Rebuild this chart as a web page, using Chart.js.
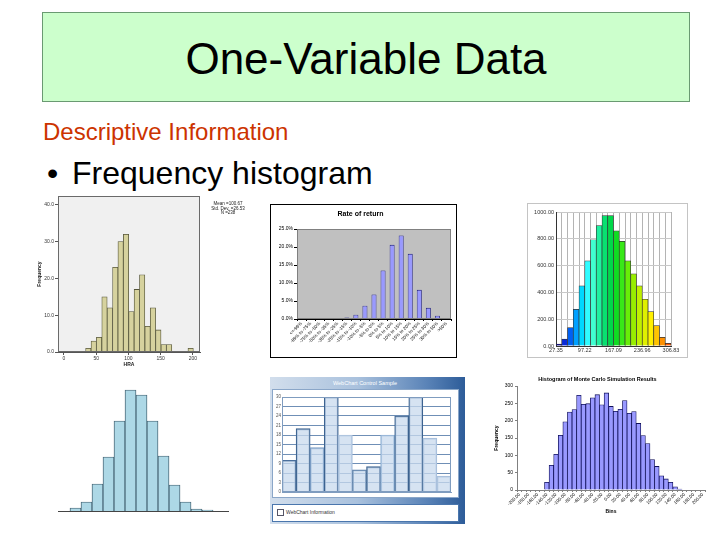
<!DOCTYPE html>
<html><head><meta charset="utf-8">
<script src="https://cdn.jsdelivr.net/npm/chart.js@4.4.1/dist/chart.umd.min.js"></script>
<style>
html,body{margin:0;padding:0;background:#fff;width:720px;height:540px;overflow:hidden;font-family:"Liberation Sans",Arial,sans-serif;}
.abs{position:absolute;white-space:nowrap;}
canvas{position:absolute;}
#titleBox{left:42px;top:12px;width:646px;height:88px;background:#ccffcc;border:1px solid #6a9a72;}
#titleText{left:42px;top:37px;width:648px;text-align:center;font-size:44px;line-height:44px;color:#000;}
#sub{left:43px;top:120px;font-size:24px;line-height:24px;color:#cc3300;}
#bul{left:47px;top:157px;font-size:32px;line-height:32px;}
#bulText{left:72px;top:157px;font-size:32px;line-height:32px;}
#spssLegend{left:206px;top:202px;width:44px;text-align:center;font-size:4.5px;line-height:4.6px;color:#222;}
#wcFrame{left:270px;top:377px;width:195px;height:147px;background:linear-gradient(90deg,#d2deec 0%,#a9c1dd 45%,#5b84b8 80%,#2d5c99 100%);}
#wcHead{left:270px;top:379px;width:190px;text-align:center;font-size:5.5px;line-height:8px;color:#fff;}
#wcPanel{left:272px;top:389px;width:185px;height:107px;background:#fff;border:1px solid #8aa6c8;}
#wcInfo{left:272px;top:504px;width:185px;height:16px;background:#fff;border:1px solid #4a76ad;}
#wcBox{left:277px;top:509px;width:5px;height:5px;border:1px solid #556;background:#fff;}
#wcInfoText{left:286px;top:509px;font-size:5px;line-height:7px;color:#333;}
</style></head>
<body>
<div id="titleBox" class="abs"></div>
<div id="titleText" class="abs">One-Variable Data</div>
<div id="sub" class="abs">Descriptive Information</div>
<div id="bul" class="abs">•</div>
<div id="bulText" class="abs">Frequency histogram</div>

<canvas id="c1" width="237" height="180" style="left:28px;top:192px"></canvas>
<div id="spssLegend" class="abs">Mean =100.67<br>Std. Dev. =26.53<br>N =238</div>

<canvas id="c2" width="187" height="154" style="left:270px;top:204px"></canvas>
<canvas id="c3" width="161" height="155" style="left:527px;top:203px"></canvas>
<canvas id="c4" width="178" height="131" style="left:55px;top:383px"></canvas>

<div id="wcFrame" class="abs"></div>
<div id="wcHead" class="abs">WebChart Control Sample</div>
<div id="wcPanel" class="abs"></div>
<div id="wcInfo" class="abs"></div>
<div id="wcBox" class="abs"></div>
<div id="wcInfoText" class="abs">WebChart Information</div>
<canvas id="c5" width="185" height="109" style="left:273px;top:389px"></canvas>

<canvas id="c6" width="220" height="150" style="left:490px;top:372px"></canvas>

<script>
// ---------- data ----------
// Chart 1: SPSS histogram of HRA
const hraBinCenters = [37.7, 46.1, 54.4, 62.8, 71.1, 79.5, 87.8, 96.2, 104.5, 112.9, 121.2, 129.6, 137.9, 146.3, 154.6, 163.0, 171.3, 179.7, 188.0, 196.4];
const hraFrequency  = [1, 3, 4, 15, 12, 23, 30, 32, 11, 17, 21, 7, 12, 6, 2, 2, 0, 0, 0, 1];

// Chart 2: Rate of return (Excel)
const returnBins = ["<=-99%","-99% to -75%","-75% to -50%","-50% to -35%","-35% to -25%","-25% to -15%","-15% to -10%","-10% to -5%","-5% to 0%","0% to 5%","5% to 10%","10% to 15%","15% to 20%","20% to 25%","25% to 30%","30% to 50%",">50%"];
const returnPct  = [0, 0, 0.1, 0.3, 0.1, 0.4, 1.2, 3.7, 6.8, 13.5, 20.6, 23.2, 18.1, 8.1, 3.1, 0.9, 0.3];

// Chart 3: coloured histogram
const colourBins   = ["b1","b2","b3","b4","b5","b6","b7","b8","b9","b10","b11","b12","b13","b14","b15","b16","b17","b18","b19","b20"];
const colourCounts = [15, 52, 137, 274, 449, 636, 793, 898, 973, 973, 860, 781, 636, 539, 449, 349, 257, 152, 65, 20];
const colourEdgeLabels = ["27.35","","","","","97.22","","","","","167.09","","","","","236.96","","","","","306.83"];

// Chart 4: normal-looking histogram
const normalBins   = [1, 2, 3, 4, 5, 6, 7, 8, 9, 10, 11, 12, 13];
const normalCounts = [3, 9, 27, 54, 90, 121, 116, 90, 55, 26, 9, 2, 1];

// Chart 5: WebChart Control Sample
const months      = ["Jan","Feb","Mar","Apr","May","Jun","Jul","Aug","Sep","Oct","Nov","Dec"];
const monthValues = [10, 20, 14, 30, 18, 7, 8, 18, 24, 30, 17, 5];

// Chart 6: Monte Carlo simulation results
const mcBins = ["-200.00","","-180.00","","-160.00","","-140.00","","-120.00","","-100.00","","-80.00","","-60.00","","-40.00","","-20.00","","0.00","","20.00","","40.00","","60.00","","80.00","","100.00","","120.00","","140.00","","160.00","","180.00","","200.00"];
const mcFrequency = [0,0,0,0,0,0,22,71,103,158,197,225,232,273,247,249,266,275,246,280,241,227,233,258,221,226,192,157,134,88,68,41,32,22,9,3,0,0,0,0,0];

// ---------- styles ----------
const colourBarColors = ['#121290','#0a2ad8','#0060f4','#00a0ff','#00d8ff','#30fcff','#40ffd0','#20f0a0','#08e070','#00d84a','#10dc22','#38e818','#68ee08','#98ee00','#c0f000','#e0f000','#fff000','#ffc400','#ff9000','#ff5a00'];
const webBorderColors = ['#4a6f9c','#3d6390','#7a9cc4','#3d6390','#a9c0dc','#5a7fa8','#3d6390','#8fb0d4','#3d6390','#3d6390','#a9c0dc','#a9c0dc'];

Chart.defaults.font.family = '"Liberation Sans", Arial, sans-serif';
Chart.defaults.color = '#000';

const deco = {
  id: 'deco',
  beforeDraw(chart, args, o) {
    const {ctx, chartArea: a, width, height} = chart;
    ctx.save();
    if (o.canvasBg) { ctx.fillStyle = o.canvasBg; ctx.fillRect(0, 0, width, height); }
    if (o.areaBg) { ctx.fillStyle = o.areaBg; ctx.fillRect(a.left, a.top, a.right - a.left, a.bottom - a.top); }
    ctx.restore();
  },
  afterDraw(chart, args, o) {
    const {ctx, chartArea: a, width, height} = chart;
    ctx.save();
    ctx.lineWidth = 1;
    if (o.areaBorder) { ctx.strokeStyle = o.areaBorder; ctx.strokeRect(Math.round(a.left) + 0.5, Math.round(a.top) + 0.5, Math.round(a.right - a.left) - 1, Math.round(a.bottom - a.top) - 1); }
    if (o.frame) { ctx.strokeStyle = o.frame; ctx.strokeRect(0.5, 0.5, width - 1, height - 1); }
    ctx.restore();
  }
};
Chart.register(deco);

function base(plugins) {
  return Object.assign({legend: {display: false}, tooltip: {enabled: false}}, plugins || {});
}

// ---------- Chart 1 ----------
new Chart(document.getElementById('c1'), {
  type: 'bar',
  data: {datasets: [{
    data: hraBinCenters.map((x, i) => ({x: x, y: hraFrequency[i]})),
    backgroundColor: '#d6d29e', borderColor: '#55553a', borderWidth: 0.8,
    barPercentage: 1, categoryPercentage: 1
  }]},
  options: {
    responsive: false, animation: false, devicePixelRatio: 1,
    layout: {padding: {left: 0, right: 65, top: 4, bottom: 0}},
    plugins: base({deco: {areaBg: '#f0f0f0', areaBorder: '#6a6a6a'}}),
    scales: {
      x: {type: 'linear', min: -9.3, max: 210.9, offset: false,
        ticks: {stepSize: 50, includeBounds: false, font: {size: 5}, color: '#333', padding: 1, maxRotation: 0},
        grid: {drawOnChartArea: false, tickLength: 3, color: '#555', offset: false}, border: {color: '#555'},
        title: {display: true, text: 'HRA', font: {size: 5, weight: 'bold'}, color: '#222', padding: {top: 0, bottom: 4}},
        afterFit(s) { s.height = 20; }},
      y: {min: 0, max: 42.4,
        ticks: {stepSize: 10, includeBounds: false, font: {size: 5}, color: '#333', padding: 1, callback: v => v.toFixed(1)},
        grid: {drawOnChartArea: false, tickLength: 3, color: '#555'}, border: {color: '#555'},
        title: {display: true, text: 'Frequency', font: {size: 5, weight: 'bold'}, color: '#222', padding: {top: 9, bottom: 0}},
        afterFit(s) { s.width = 30; }}
    }
  }
});

// ---------- Chart 2 ----------
new Chart(document.getElementById('c2'), {
  type: 'bar',
  data: {labels: returnBins, datasets: [{
    data: returnPct, backgroundColor: '#9999ff', borderColor: '#1a1a80', borderWidth: 0.8,
    barPercentage: 0.55, categoryPercentage: 1
  }]},
  options: {
    responsive: false, animation: false, devicePixelRatio: 1,
    layout: {padding: {left: 0, right: 6, top: 0, bottom: 0}},
    plugins: base({
      title: {display: true, text: 'Rate of return', font: {size: 7}, color: '#000', padding: {top: 6, bottom: 10.6}},
      deco: {areaBg: '#c0c0c0', areaBorder: '#808080', frame: '#000'}
    }),
    scales: {
      x: {ticks: {font: {size: 4.5}, color: '#000', minRotation: 45, maxRotation: 45, autoSkip: false, padding: 0},
        grid: {drawOnChartArea: false, tickLength: 2, color: '#000'}, border: {color: '#000'},
        afterFit(s) { s.height = 39; }},
      y: {min: 0, max: 25,
        ticks: {stepSize: 5, font: {size: 5}, color: '#000', padding: 1, callback: v => v.toFixed(1) + '%'},
        grid: {drawOnChartArea: false, tickLength: 3, color: '#000'}, border: {color: '#000'},
        afterFit(s) { s.width = 27; }}
    }
  }
});

// ---------- Chart 3 ----------
new Chart(document.getElementById('c3'), {
  type: 'bar',
  data: {labels: colourBins, datasets: [{
    data: colourCounts, backgroundColor: colourBarColors, borderColor: '#333333', borderWidth: 0.7,
    barPercentage: 1, categoryPercentage: 1
  }]},
  options: {
    responsive: false, animation: false, devicePixelRatio: 1,
    layout: {padding: {left: 0, right: 17, top: 9, bottom: 0}},
    plugins: base({deco: {frame: '#c4c4c4'}}),
    scales: {
      x: {display: false},
      xEdge: {type: 'linear', position: 'bottom', min: 0, max: 20, offset: false,
        ticks: {stepSize: 1, autoSkip: false, maxRotation: 0, font: {size: 5.5}, color: '#333', padding: 1,
          callback: (v, i) => colourEdgeLabels[i]},
        grid: {color: '#b4b4b4', tickLength: 0, offset: false}, border: {color: '#333'},
        afterFit(s) { s.height = 12; }},
      y: {min: 0, max: 1000,
        ticks: {stepSize: 200, font: {size: 5.5}, color: '#333', padding: 2, callback: v => v.toFixed(2)},
        grid: {color: '#c8c8c8', tickLength: 0}, border: {color: '#333'},
        afterFit(s) { s.width = 29; }}
    }
  }
});

// ---------- Chart 4 ----------
new Chart(document.getElementById('c4'), {
  type: 'bar',
  data: {datasets: [{
    data: normalBins.map((x, i) => ({x: x, y: normalCounts[i]})),
    backgroundColor: '#add8e6', borderColor: '#3d5b6b', borderWidth: 0.9,
    barPercentage: 1, categoryPercentage: 1
  }]},
  options: {
    responsive: false, animation: false, devicePixelRatio: 1,
    layout: {padding: {left: 3, right: 5, top: 2, bottom: 1}},
    plugins: base(),
    scales: {
      x: {type: 'linear', min: -0.59, max: 14.86, offset: false,
        ticks: {display: false}, grid: {display: false}, border: {color: '#444', width: 1},
        afterFit(s) { s.height = 2; }},
      y: {display: false, min: 0, max: 126}
    }
  }
});

// ---------- Chart 5 ----------
new Chart(document.getElementById('c5'), {
  type: 'bar',
  data: {labels: months, datasets: [{
    data: monthValues, backgroundColor: 'rgba(200,218,238,0.75)', borderColor: webBorderColors, borderWidth: 1.2,
    barPercentage: 1, categoryPercentage: 1
  }]},
  options: {
    responsive: false, animation: false, devicePixelRatio: 1,
    layout: {padding: {left: 0, right: 7, top: 8, bottom: 0}},
    plugins: base({deco: {areaBorder: '#7f9cbf'}}),
    scales: {
      x: {ticks: {font: {size: 5}, color: '#555', padding: 0, maxRotation: 0, autoSkip: false},
        grid: {display: false}, border: {color: '#7f9cbf'},
        afterFit(s) { s.height = 6; }},
      y: {min: 0, max: 30,
        ticks: {stepSize: 3, font: {size: 4.5}, color: '#555', padding: 1},
        grid: {color: '#6f8fb6', tickLength: 0}, border: {color: '#7f9cbf'},
        afterFit(s) { s.width = 9; }}
    }
  }
});

// ---------- Chart 6 ----------
new Chart(document.getElementById('c6'), {
  type: 'bar',
  data: {labels: mcBins, datasets: [{
    data: mcFrequency, backgroundColor: '#9999ff', borderColor: '#10105a', borderWidth: 0.8,
    barPercentage: 1, categoryPercentage: 1
  }]},
  options: {
    responsive: false, animation: false, devicePixelRatio: 1,
    layout: {padding: {left: 0, right: 5, top: 0, bottom: 0}},
    plugins: base({
      title: {display: true, text: 'Histogram of Monte Carlo Simulation Results', font: {size: 5.5, weight: 'bold'}, color: '#000', padding: {top: 4, bottom: 3.4}}
    }),
    scales: {
      x: {ticks: {font: {size: 4.5}, color: '#000', minRotation: 45, maxRotation: 45, autoSkip: false, padding: 0},
        grid: {drawOnChartArea: false, tickLength: 2, color: '#808080'}, border: {color: '#808080'},
        title: {display: true, text: 'Bins', font: {size: 5, weight: 'bold'}, color: '#000', padding: {top: 0, bottom: 7}},
        afterFit(s) { s.height = 32; }},
      y: {min: 0, max: 300,
        ticks: {stepSize: 50, font: {size: 5}, color: '#000', padding: 2},
        grid: {drawOnChartArea: false, tickLength: 2, color: '#808080'}, border: {color: '#808080'},
        title: {display: true, text: 'Frequency', font: {size: 5, weight: 'bold'}, color: '#000', padding: {top: 4, bottom: 0}},
        afterFit(s) { s.width = 27; }}
    }
  }
});
</script>
</body></html>
